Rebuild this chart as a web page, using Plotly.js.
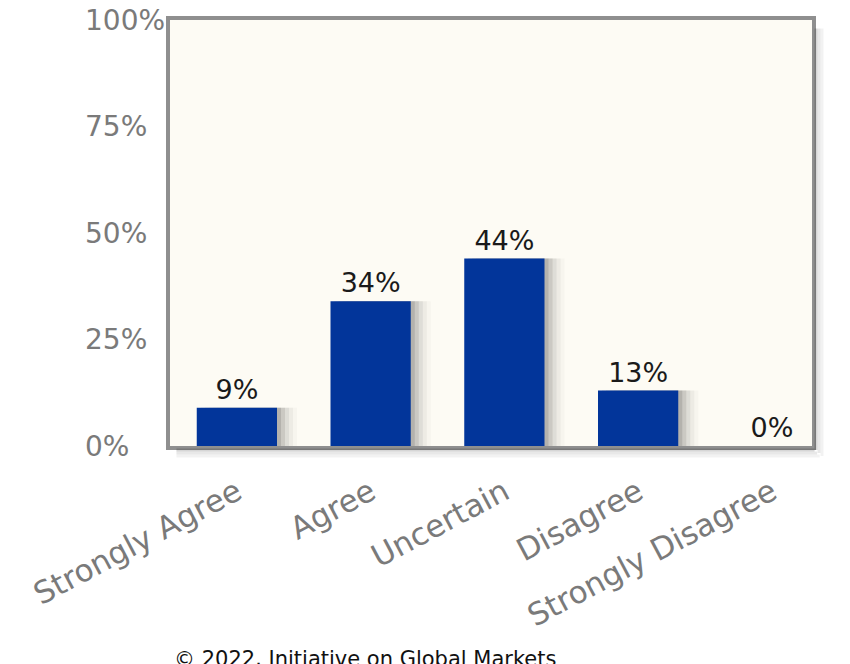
<!DOCTYPE html>
<html>
<head>
<meta charset="utf-8">
<script src="https://cdn.plot.ly/plotly-3.0.1.min.js"></script>
<style>
html,body{margin:0;padding:0;background:#fff;}
#chart{width:850px;height:664px;}
</style>
</head>
<body>
<div id="chart"></div>
<script>
// ---- data ----
var categories = ["Strongly Agree", "Agree", "Uncertain", "Disagree", "Strongly Disagree"];
var values = [9, 34, 44, 13, 0];
var valueLabels = ["9%", "34%", "44%", "13%", "0%"];
var yTickVals = [0, 25, 50, 75, 100];
var yTickText = ["0%", "25%", "50%", "75%", "100%"];
var footer = "© 2022, Initiative on Global Markets";

var FONT = "DejaVu Sans, Verdana, sans-serif";
var BAR_W = 0.6;

var traces = [];
// soft drop shadows (drawn from the same values)
var shadowSteps = [0.16, 0.12, 0.08, 0.05, 0.03];
shadowSteps.forEach(function (a, i) {
  traces.push({
    type: "bar",
    x: categories,
    y: values,
    width: BAR_W,
    offset: -BAR_W / 2 + 0.03 * (i + 1),
    marker: { color: "rgba(60,60,60," + a + ")", line: { width: 0 } },
    hoverinfo: "skip",
    showlegend: false
  });
});
traces.push({
  type: "bar",
  x: categories,
  y: values,
  width: BAR_W,
  offset: -BAR_W / 2,
  marker: { color: "#02359a", line: { width: 0 } },
  text: valueLabels,
  textposition: "outside",
  cliponaxis: false,
  textfont: { family: FONT, size: 27, color: "#1a1a1a" },
  showlegend: false
});

var annotations = yTickVals.map(function (v, i) {
  return {
    xref: "paper", yref: "y",
    x: -0.136, y: v,
    xanchor: "left", yanchor: "middle",
    text: yTickText[i],
    showarrow: false,
    font: { family: FONT, size: 28, color: "#7a7a7a" }
  };
});
annotations.push({
  xref: "paper", yref: "paper",
  x: 0.003, y: (446 - 645) / 426,
  xanchor: "left", yanchor: "top",
  text: footer,
  showarrow: false,
  font: { family: FONT, size: 21, color: "#111" }
});

var shapes = [];
// frame shadow (bottom and right)
[0.16, 0.09, 0.05].forEach(function (a, i) {
  shapes.push({
    type: "line", xref: "paper", yref: "paper",
    x0: 0.01, x1: 1.0 + 0.004 * (i + 1),
    y0: -(4 + 3 * i) / 426, y1: -(4 + 3 * i) / 426,
    line: { color: "rgba(0,0,0," + a + ")", width: 3 }
  });
  shapes.push({
    type: "line", xref: "paper", yref: "paper",
    x0: 1.0 + (4 + 3 * i) / 642, x1: 1.0 + (4 + 3 * i) / 642,
    y0: 0.98, y1: -(4 + 3 * i) / 426,
    line: { color: "rgba(0,0,0," + a + ")", width: 3 }
  });
});

var layout = {
  width: 850, height: 664,
  margin: { l: 170, r: 38, t: 20, b: 218, pad: 0 },
  paper_bgcolor: "#ffffff",
  plot_bgcolor: "#fdfbf4",
  barmode: "overlay",
  showlegend: false,
  xaxis: {
    type: "category",
    range: [-0.5, 4.3],
    showgrid: false, zeroline: false,
    showline: true, mirror: true, linewidth: 4, linecolor: "#8f8f8f",
    ticks: "",
    tickangle: -28,
    ticklabelstandoff: 12,
    tickfont: { family: FONT, size: 31, color: "#7a7a7a" },
    fixedrange: true
  },
  yaxis: {
    range: [0, 100],
    tickvals: yTickVals,
    showticklabels: false,
    showgrid: false, zeroline: false,
    showline: true, mirror: true, linewidth: 4, linecolor: "#8f8f8f",
    ticks: "",
    fixedrange: true
  },
  annotations: annotations,
  shapes: shapes
};

Plotly.newPlot("chart", traces, layout, { displayModeBar: false, staticPlot: true });
</script>
</body>
</html>
